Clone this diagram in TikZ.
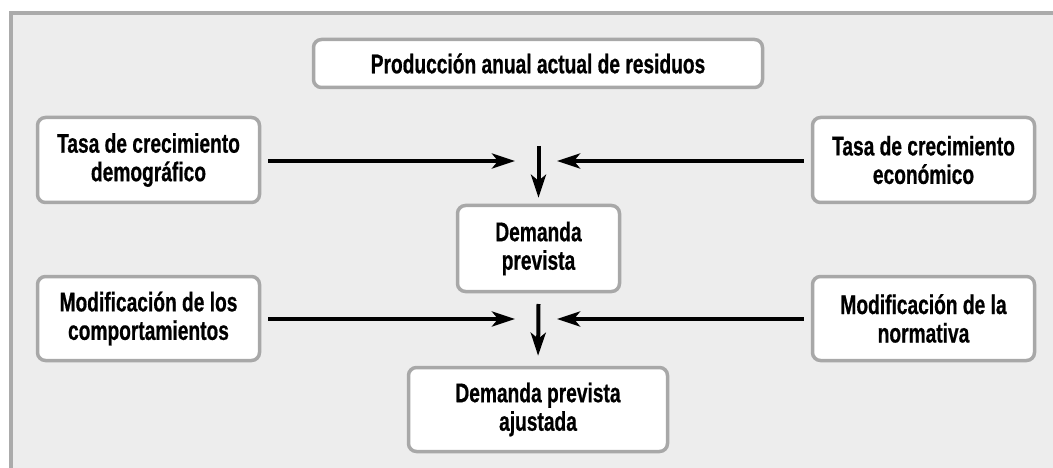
\documentclass[tikz,border=0pt]{standalone}
\usepackage{fontspec}
\setmainfont{Liberation Sans}[FakeStretch=0.71, BoldFeatures={FakeBold=0.6}]
\usetikzlibrary{arrows.meta}
\definecolor{framegray}{HTML}{ABABAB}
\definecolor{bggray}{HTML}{EDEDED}
\definecolor{boxgray}{HTML}{A8A8A8}
\tikzset{
  box/.style={draw=boxgray, line width=3.5pt, fill=white, rounded corners=8pt,
    align=center, inner sep=0pt, font=\fontsize{27}{28.5}\selectfont\bfseries, text=black},
  flow/.style={line width=4pt, draw=black, -{Stealth[length=23pt,width=15pt,inset=6pt]}},
}
\begin{document}
\begin{tikzpicture}[x=1pt,y=-1pt]
\useasboundingbox (0,0) rectangle (1053,468);
\begin{scope}
\clip (0,0) rectangle (1053,468);
\draw[draw=framegray, fill=bggray, line width=3.5pt] (11,13) rectangle (1070,490);
\end{scope}
\node[box, minimum width=449pt, minimum height=48pt] (top) at (538,63.5) {Producción anual actual de residuos};
\node[box, minimum width=222pt, minimum height=85pt] (demo) at (148.5,160) {Tasa de crecimiento\\demográfico};
\node[box, minimum width=222pt, minimum height=85pt] (econ) at (923.5,160) {Tasa de crecimiento\\económico};
\node[box, minimum width=162pt, minimum height=86pt] (dp) at (538.5,248.5) {Demanda\\prevista};
\node[box, minimum width=222pt, minimum height=84pt] (comp) at (148.5,318.5) {Modificación de los\\comportamientos};
\node[box, minimum width=222pt, minimum height=84pt] (norm) at (923.5,318.5) {Modificación de la\\normativa};
\node[box, minimum width=259pt, minimum height=84pt] (dpa) at (538,409.5) {Demanda prevista\\ajustada};
% first junction
\coordinate (a1l) at (515,161);
\coordinate (a1r) at (557,161);
\coordinate (a1t) at (538.5,146);
\draw[flow, shorten <=7pt] (demo.east |- a1l) -- (a1l);
\draw[flow, shorten <=7pt] (econ.west |- a1r) -- (a1r);
\draw[flow, shorten >=6pt] (a1t) -- (dp.north);
% second junction
\coordinate (a2l) at (515,319);
\coordinate (a2r) at (557,319);
\coordinate (a2t) at (538.5,304);
\draw[flow, shorten <=7pt] (comp.east |- a2l) -- (a2l);
\draw[flow, shorten <=7pt] (norm.west |- a2r) -- (a2r);
\draw[flow, shorten >=10pt] (a2t) -- (dpa.north);
\end{tikzpicture}
\end{document}
